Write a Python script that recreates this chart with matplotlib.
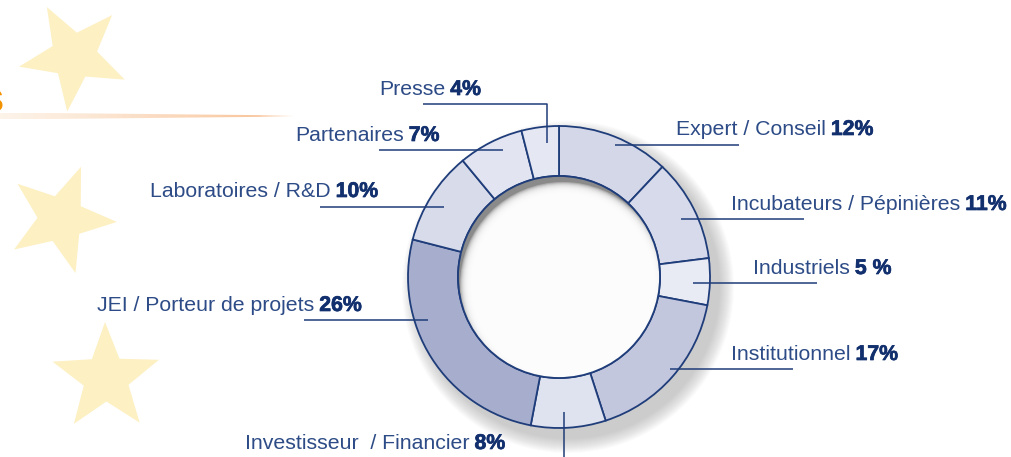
import numpy as np
import matplotlib.pyplot as plt
import matplotlib.patheffects as pe
from matplotlib.patches import Circle, Polygon

# donnees du graphique (sens horaire depuis midi)
noms = ['Expert / Conseil', 'Incubateurs / Pépinières', 'Industriels', 'Institutionnel',
        'Investisseur  / Financier', 'JEI / Porteur de projets', 'Laboratoires / R&D',
        'Partenaires', 'Presse']
pourcents = [12, 11, 5, 17, 8, 26, 10, 7, 4]
etiquettes = ['12%', '11%', '5 %', '17%', '8%', '26%', '10%', '7%', '4%']
couleurs = ['#d3d7e8', '#d6daea', '#e8ebf4', '#c3c7de', '#dfe2ef',
            '#a7aecd', '#d7dbea', '#e2e5f1', '#e5e8f2']

# mise en page des etiquettes (pixels) : debut du texte, ligne de base
pos_texte = [(676, 135), (731, 210), (753, 274), (731, 360), (245, 449),
             (97, 311), (150, 197), (295, 141), (379, 95)]
# traits de rappel
traits = [[(615, 145), (739, 145)],
          [(681, 219), (804, 219)],
          [(693, 283), (817, 283)],
          [(670, 369), (793, 369)],
          [(564, 412), (564, 460)],
          [(304, 320), (428, 320)],
          [(320, 207), (444, 207)],
          [(379, 150), (503, 150)],
          [(423, 104), (547, 104), (547, 143)]]

bleu = '#1f3d7a'
bleu_txt = '#2d4b86'
bleu_gras = '#12306e'
cx, cy = 559, 277
R, r_in = 151, 101

fig = plt.figure(figsize=(10.11, 4.57), dpi=100)
ax = fig.add_axes([0, 0, 1, 1])


def etoile(xc, yc, rayon, angle):
    pts = []
    for k in range(10):
        a = np.radians(angle + k * 36)
        rr = rayon if k % 2 == 0 else rayon * 0.42
        pts.append((xc + rr * np.cos(a), yc - rr * np.sin(a)))
    return Polygon(pts, closed=True, fc='#fdf0c3', ec='none', zorder=0)


ax.add_patch(etoile(74, 56, 56, 119))
ax.add_patch(etoile(61, 219, 56, 69))
ax.add_patch(etoile(106, 378, 56, 91))

# trainee orange
grad = np.zeros((1, 300, 4))
grad[..., 0] = 0.97
grad[..., 1] = np.linspace(0.85, 0.65, 300)
grad[..., 2] = np.linspace(0.72, 0.40, 300)
alpha = np.linspace(0.3, 0.75, 300)
alpha[-40:] *= np.linspace(1, 0, 40)
grad[..., 3] = alpha
im = ax.imshow(grad, extent=(0, 295, 119, 113), aspect='auto', zorder=1, interpolation='bilinear')
im.set_clip_path(Polygon([(0, 112.5), (295, 115.5), (295, 116.5), (0, 119.5)], closed=True,
                         transform=ax.transData))
ax.text(4, 112, 's', color='#f39200', fontsize=30, fontweight='bold', ha='right',
        va='baseline', family='Liberation Sans', zorder=1)

# ombre exterieure
for k in range(15):
    ax.add_patch(Circle((cx + 9, cy + 10), R + 15 - k, fc='#505050', ec='none',
                        alpha=0.02, zorder=1))

ax.pie(pourcents, colors=couleurs, startangle=-90, counterclock=True,
       center=(cx, cy), radius=R,
       wedgeprops=dict(width=R - r_in, edgecolor=bleu, linewidth=1.3))

# ombre dans le trou
trou = Circle((cx, cy), r_in, fc='none', ec='none')
ax.add_patch(trou)
fond = Circle((cx, cy), r_in, fc='#8a8a8a', ec='none', zorder=2)
ax.add_patch(fond)
fond.set_clip_path(trou)
for k in range(18):
    c = Circle((cx + 4, cy + 8), r_in + 2 - k, fc='white', ec='none', alpha=0.3, zorder=2)
    ax.add_patch(c)
    c.set_clip_path(trou)
ax.add_patch(Circle((cx, cy), r_in, fc='none', ec=bleu, lw=1.3, zorder=3))

for t in traits:
    xs = [p[0] for p in t]
    ys = [p[1] for p in t]
    ax.plot(xs, ys, color=bleu, lw=1.1, zorder=4, solid_capstyle='butt')

ax.set_xlim(0, 1011)
ax.set_ylim(457, 0)
ax.set_aspect('auto')
ax.axis('off')

rend = fig.canvas.get_renderer()
for nom, pc, (x, y) in zip(noms, etiquettes, pos_texte):
    t = ax.text(x, y, nom, color=bleu_txt, fontsize=15.3, family='Liberation Sans',
                va='baseline', ha='left', zorder=5)
    bb = t.get_window_extent(rend)
    x2 = ax.transData.inverted().transform((bb.x1, bb.y0))[0]
    ax.text(x2 + 5, y, pc, color=bleu_gras, fontsize=15.3, family='Liberation Sans',
            fontweight='bold', va='baseline', ha='left', zorder=5,
            path_effects=[pe.withStroke(linewidth=0.5, foreground=bleu_gras)])

fig.savefig('out.png', dpi=100)
